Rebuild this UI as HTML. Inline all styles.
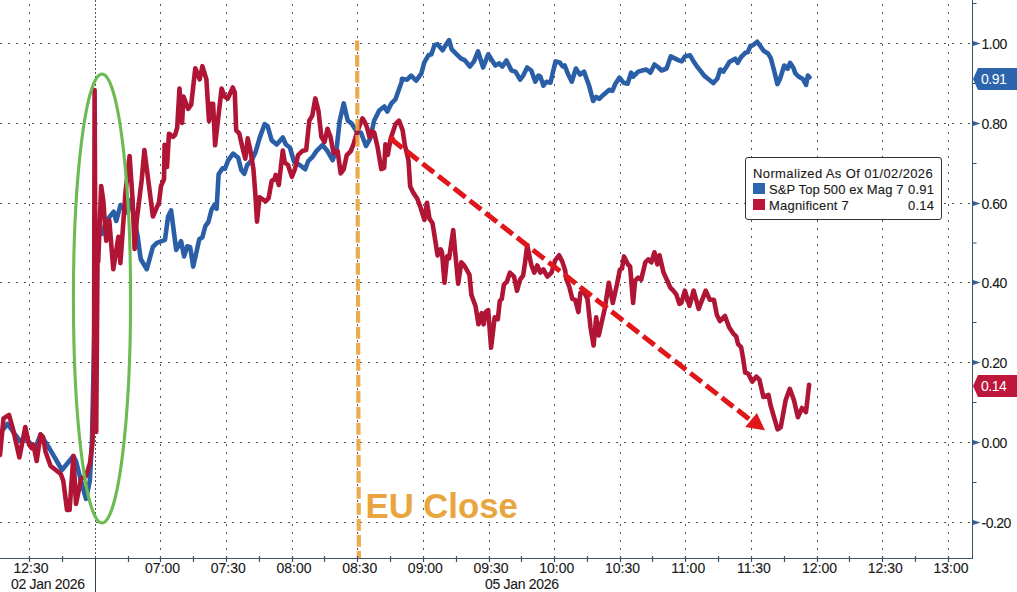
<!DOCTYPE html>
<html><head><meta charset="utf-8">
<style>
html,body{margin:0;padding:0;background:#fff;}
body{width:1017px;height:592px;position:relative;overflow:hidden;font-family:"Liberation Sans",sans-serif;color:#1a1a1a;}
.yl,.xl,.dl,.legend{-webkit-text-stroke:0.12px #1a1a1a;}
svg{position:absolute;left:0;top:0;}
.yl{position:absolute;left:981.5px;font-size:14px;line-height:16px;height:16px;white-space:nowrap;letter-spacing:-0.5px;}
.xl{position:absolute;top:560px;width:60px;text-align:center;font-size:14px;line-height:16px;white-space:nowrap;}
.dl{position:absolute;top:576px;font-size:14px;line-height:16px;white-space:nowrap;letter-spacing:-0.3px;}
.badge{position:absolute;left:973px;width:44px;height:22px;}
.badge span{position:absolute;left:8px;top:3px;font-size:14px;line-height:17px;color:#fff;letter-spacing:-0.5px;}
.legend{position:absolute;left:744.5px;top:156.5px;width:195.5px;height:61.5px;border:1px solid #333;border-radius:3px;background:#fff;font-size:13px;line-height:16px;}
.legend .row{position:absolute;left:8px;white-space:nowrap;}
.legend .sq{position:absolute;width:12px;height:11px;}
.eu{position:absolute;left:365.5px;top:486px;font-size:34.7px;line-height:40px;font-weight:bold;color:#e9a53e;white-space:nowrap;}
</style></head>
<body>
<svg width="1017" height="592" viewBox="0 0 1017 592">
<line x1="0" y1="43.5" x2="972" y2="43.5" stroke="#555" stroke-width="1" stroke-dasharray="2 6"/>
<line x1="0" y1="123.5" x2="972" y2="123.5" stroke="#555" stroke-width="1" stroke-dasharray="2 6"/>
<line x1="0" y1="203.5" x2="972" y2="203.5" stroke="#555" stroke-width="1" stroke-dasharray="2 6"/>
<line x1="0" y1="282.5" x2="972" y2="282.5" stroke="#555" stroke-width="1" stroke-dasharray="2 6"/>
<line x1="0" y1="362.5" x2="972" y2="362.5" stroke="#555" stroke-width="1" stroke-dasharray="2 6"/>
<line x1="0" y1="442.5" x2="972" y2="442.5" stroke="#555" stroke-width="1" stroke-dasharray="2 6"/>
<line x1="0" y1="522.5" x2="972" y2="522.5" stroke="#555" stroke-width="1" stroke-dasharray="2 6"/>
<line x1="29.5" y1="0" x2="29.5" y2="558" stroke="#555" stroke-width="1" stroke-dasharray="2 6" stroke-dashoffset="4"/>
<line x1="160.5" y1="0" x2="160.5" y2="558" stroke="#555" stroke-width="1" stroke-dasharray="2 6" stroke-dashoffset="4"/>
<line x1="226.5" y1="0" x2="226.5" y2="558" stroke="#555" stroke-width="1" stroke-dasharray="2 6" stroke-dashoffset="4"/>
<line x1="292.5" y1="0" x2="292.5" y2="558" stroke="#555" stroke-width="1" stroke-dasharray="2 6" stroke-dashoffset="4"/>
<line x1="357.5" y1="0" x2="357.5" y2="558" stroke="#555" stroke-width="1" stroke-dasharray="2 6" stroke-dashoffset="4"/>
<line x1="423.5" y1="0" x2="423.5" y2="558" stroke="#555" stroke-width="1" stroke-dasharray="2 6" stroke-dashoffset="4"/>
<line x1="489.5" y1="0" x2="489.5" y2="558" stroke="#555" stroke-width="1" stroke-dasharray="2 6" stroke-dashoffset="4"/>
<line x1="554.5" y1="0" x2="554.5" y2="558" stroke="#555" stroke-width="1" stroke-dasharray="2 6" stroke-dashoffset="4"/>
<line x1="620.5" y1="0" x2="620.5" y2="558" stroke="#555" stroke-width="1" stroke-dasharray="2 6" stroke-dashoffset="4"/>
<line x1="685.5" y1="0" x2="685.5" y2="558" stroke="#555" stroke-width="1" stroke-dasharray="2 6" stroke-dashoffset="4"/>
<line x1="751.5" y1="0" x2="751.5" y2="558" stroke="#555" stroke-width="1" stroke-dasharray="2 6" stroke-dashoffset="4"/>
<line x1="817.5" y1="0" x2="817.5" y2="558" stroke="#555" stroke-width="1" stroke-dasharray="2 6" stroke-dashoffset="4"/>
<line x1="882.5" y1="0" x2="882.5" y2="558" stroke="#555" stroke-width="1" stroke-dasharray="2 6" stroke-dashoffset="4"/>
<line x1="948.5" y1="0" x2="948.5" y2="558" stroke="#555" stroke-width="1" stroke-dasharray="2 6" stroke-dashoffset="4"/>
<line x1="95.5" y1="0" x2="95.5" y2="558" stroke="#555" stroke-width="1" stroke-dasharray="2 2"/>
<polyline points="0.0,433.0 7.6,424.0 15.0,434.5 20.0,441.0 25.0,438.0 31.6,444.6 36.0,446.0 40.5,434.5 49.4,448.3 58.2,463.5 62.0,470.0 73.4,456.0 76.0,461.0 81.0,481.0 86.0,499.0 89.8,481.0 92.0,440.0 96.5,232.0 101.9,233.8 105.0,225.0 109.5,216.9 113.7,211.8 116.3,221.0 120.5,205.0 126.5,212.4 130.6,200.0 137.7,236.8 140.7,259.0 146.8,269.2 152.9,246.9 156.9,242.8 165.0,239.8 168.1,216.5 171.1,210.4 176.2,249.9 181.1,241.2 184.1,256.4 187.2,246.3 190.2,247.3 193.2,266.6 199.3,239.2 202.4,237.2 205.4,226.0 208.4,222.0 211.5,209.8 214.5,204.7 216.6,208.8 218.6,174.3 222.6,168.2 225.0,168.8 228.0,160.7 233.1,153.6 238.2,157.7 241.2,169.8 244.3,173.9 247.3,164.8 251.4,160.7 255.4,152.6 259.5,138.4 264.6,124.2 267.6,126.2 271.7,140.4 276.7,144.5 282.8,137.4 285.9,144.5 289.9,147.5 294.0,161.7 300.1,165.3 305.2,169.3 308.2,161.2 312.3,157.2 316.4,151.1 322.4,145.0 327.5,151.1 332.6,160.2 336.6,149.1 339.7,120.7 343.7,103.4 347.8,120.7 351.8,123.7 356.9,131.8 361.0,132.8 366.0,146.0 370.1,138.9 374.1,120.7 379.2,110.5 384.3,106.5 387.3,111.6 391.4,103.4 395.4,99.4 401.5,82.2 402.0,78.7 407.1,79.7 411.1,75.6 416.2,80.7 421.3,73.6 424.3,62.4 428.4,55.3 431.4,54.3 434.5,45.2 437.5,44.2 442.6,50.3 445.6,45.2 449.1,40.1 451.7,49.3 455.7,53.3 460.8,58.4 464.9,60.4 469.9,66.5 474.0,61.4 478.0,51.3 483.1,67.5 488.2,54.3 495.3,65.5 499.3,63.4 502.4,66.5 506.4,60.4 511.5,70.5 515.5,71.6 520.1,79.7 523.2,75.6 527.2,67.5 531.3,70.5 535.3,81.7 538.4,75.6 540.4,76.6 543.4,85.7 546.5,81.7 550.5,82.7 552.6,73.6 555.6,61.4 559.7,62.4 562.7,66.5 564.7,65.5 567.8,73.6 571.8,81.7 575.9,68.5 579.9,74.6 584.0,71.6 589.1,85.7 593.1,101.0 596.2,96.9 599.2,98.9 603.3,94.9 609.3,89.8 612.4,90.8 615.4,83.7 619.5,77.6 623.5,82.7 627.6,83.7 631.1,72.6 633.2,76.6 638.2,71.6 642.3,70.5 646.4,69.5 650.4,72.6 654.5,64.5 658.5,67.5 661.6,70.5 666.6,68.5 670.7,56.4 674.7,58.4 678.8,60.4 681.8,61.4 684.9,56.4 689.9,55.3 693.0,60.4 697.0,66.5 701.1,71.6 704.1,75.6 709.2,79.7 713.2,83.1 717.3,78.7 720.3,69.5 723.4,71.6 726.8,66.3 729.3,62.1 735.2,58.7 737.7,62.9 741.1,57.0 745.3,52.8 747.9,52.0 750.4,46.0 752.9,45.2 757.2,41.8 759.7,45.2 763.9,51.1 768.1,53.6 770.7,57.9 774.1,70.5 777.4,84.1 780.0,79.0 784.2,65.5 787.6,68.9 790.1,62.9 793.5,68.0 795.2,73.1 798.5,76.5 802.8,79.0 806.1,84.9 807.8,75.6 809.5,77.3" fill="none" stroke="#2a5ea6" stroke-width="4.6" stroke-linejoin="round" stroke-linecap="round"/>
<polyline points="0.0,455.0 3.5,418.4 9.0,414.8 13.0,429.0 19.4,457.4 25.3,427.0 29.0,444.6 31.6,448.0 33.5,445.0 36.7,461.0 40.5,434.5 43.0,437.0 45.6,452.0 50.6,466.0 55.7,470.0 60.8,474.0 63.3,481.0 67.0,510.0 69.6,510.0 73.4,456.0 76.0,504.0 81.0,479.0 86.0,476.0 90.0,463.0 92.5,443.0 94.0,380.0 94.6,90.0 96.2,432.0 97.6,250.0 98.2,262.0 101.2,186.0 103.2,200.0 106.2,240.8 109.3,220.5 113.3,269.2 118.4,236.8 120.4,263.1 125.5,192.2 129.6,156.0 132.6,200.0 134.6,249.0 136.7,220.5 141.7,180.0 144.4,150.0 150.8,200.0 152.9,216.5 159.0,202.3 161.0,186.0 164.0,179.3 164.6,144.9 167.0,167.0 169.0,133.7 173.1,136.8 175.0,135.1 177.2,127.6 179.5,88.5 182.1,123.0 183.5,96.6 188.2,108.8 191.2,104.7 195.3,68.2 199.7,79.4 202.4,66.2 206.4,79.4 209.0,121.0 211.1,103.7 213.1,103.7 215.1,145.3 221.6,88.5 224.7,96.6 227.7,98.7 232.8,87.5 234.8,92.6 236.2,130.3 239.2,133.3 242.2,146.5 245.3,158.7 247.7,138.4 250.4,150.6 253.4,168.8 255.4,195.2 257.0,221.6 259.5,197.2 262.5,199.2 265.6,201.3 268.6,198.2 271.7,181.0 274.7,179.0 275.7,174.9 278.8,185.0 282.8,150.6 284.8,162.7 287.9,164.8 291.9,176.9 295.0,168.8 298.1,155.1 302.2,151.1 306.2,150.1 309.3,120.7 312.3,115.6 315.3,98.4 318.4,110.5 321.4,136.9 324.5,142.0 327.5,128.8 330.5,136.9 333.6,153.1 337.6,151.1 340.7,173.4 343.7,169.3 346.8,155.1 350.8,151.1 353.9,143.0 356.9,132.8 362.4,118.3 364.7,121.8 367.1,127.7 369.5,137.2 371.8,131.3 374.2,132.5 377.7,147.8 381.3,169.1 384.2,167.9 385.4,144.3 387.8,154.9 390.7,138.4 395.5,124.2 399.0,120.6 402.6,130.1 404.9,145.5 406.7,152.6 408.5,160.8 410.2,186.5 413.2,192.6 417.3,198.7 420.3,206.8 424.4,219.9 427.0,202.7 429.5,218.9 432.5,223.0 437.6,255.4 440.6,249.3 442.0,252.3 444.5,282.7 447.1,256.4 449.1,258.4 453.2,230.0 455.2,252.3 458.2,283.7 461.3,262.4 464.3,265.5 469.4,274.6 471.4,294.9 475.5,306.0 478.5,324.3 481.6,313.1 483.6,324.3 485.6,312.1 488.2,310.1 491.1,347.6 494.7,317.2 497.8,319.2 499.8,301.0 501.8,298.9 503.9,284.7 506.9,281.7 509.9,272.6 514.0,276.6 517.0,290.8 520.1,279.7 523.1,275.6 525.1,262.4 527.2,245.2 531.2,264.5 534.3,272.6 537.3,265.5 540.3,272.6 543.4,269.5 547.4,276.6 551.5,272.6 555.1,260.4 559.1,255.3 562.2,261.4 565.2,270.5 566.2,278.7 569.3,286.8 572.3,298.9 575.3,299.9 578.4,312.1 580.4,292.8 583.4,290.8 587.5,298.9 590.5,327.3 593.6,345.5 596.2,317.2 598.7,335.4 601.7,322.2 604.7,309.1 608.8,282.7 612.8,303.0 616.9,284.7 619.9,269.5 622.0,268.5 624.0,256.4 628.0,264.5 630.1,266.5 633.1,303.0 635.1,280.7 638.2,277.6 641.2,279.7 645.3,262.4 648.3,259.4 651.4,262.4 654.4,252.3 657.4,264.5 659.5,255.3 663.5,272.6 667.2,280.5 670.3,287.6 673.3,290.7 676.4,294.7 679.4,303.9 681.4,302.8 684.9,290.7 689.5,305.9 693.6,290.7 698.7,308.9 705.7,290.7 709.8,299.8 713.9,299.8 716.9,315.0 719.9,321.1 725.0,316.0 729.1,327.2 733.1,333.3 736.2,336.3 738.1,344.2 741.1,347.2 743.1,358.4 745.2,372.6 748.2,373.6 752.3,381.7 756.3,376.6 759.4,379.7 763.4,396.9 768.5,394.9 770.5,405.0 774.6,419.2 777.6,429.4 780.7,427.3 785.7,400.0 789.8,388.8 793.9,400.0 797.9,417.2 802.0,408.0 806.0,412.1 809.1,384.8" fill="none" stroke="#b01535" stroke-width="4.6" stroke-linejoin="round" stroke-linecap="round"/>
<line x1="357.1" y1="40.5" x2="358.9" y2="558" stroke="#e9a53e" stroke-width="4.2" stroke-dasharray="11.8 4.2" stroke-dashoffset="1.6" opacity="0.9"/>
<ellipse cx="102" cy="298.5" rx="28.6" ry="224.5" fill="none" stroke="#6bbb52" stroke-width="3.1"/>
<line x1="391" y1="139" x2="749" y2="419" stroke="#e0161b" stroke-width="5" stroke-dasharray="14.5 5.5"/>
<polygon points="745.2,426.9 756.9,413.1 765,430.4" fill="#e0161b"/>
<circle cx="392" cy="139.5" r="3.2" fill="#e0161b"/>
<line x1="972.5" y1="0" x2="972.5" y2="559" stroke="#3c5566" stroke-width="1"/>
<line x1="0" y1="558.5" x2="973" y2="558.5" stroke="#3c5566" stroke-width="1"/>
<line x1="95.5" y1="558" x2="95.5" y2="592" stroke="#333d45" stroke-width="1"/>
<line x1="29.5" y1="556" x2="29.5" y2="562" stroke="#3c5566" stroke-width="1.2"/>
<line x1="62.5" y1="556" x2="62.5" y2="562" stroke="#3c5566" stroke-width="1.2"/>
<line x1="128.5" y1="556" x2="128.5" y2="562" stroke="#3c5566" stroke-width="1.2"/>
<line x1="160.5" y1="556" x2="160.5" y2="562" stroke="#3c5566" stroke-width="1.2"/>
<line x1="226.5" y1="556" x2="226.5" y2="562" stroke="#3c5566" stroke-width="1.2"/>
<line x1="292.5" y1="556" x2="292.5" y2="562" stroke="#3c5566" stroke-width="1.2"/>
<line x1="357.5" y1="556" x2="357.5" y2="562" stroke="#3c5566" stroke-width="1.2"/>
<line x1="423.5" y1="556" x2="423.5" y2="562" stroke="#3c5566" stroke-width="1.2"/>
<line x1="489.5" y1="556" x2="489.5" y2="562" stroke="#3c5566" stroke-width="1.2"/>
<line x1="554.5" y1="556" x2="554.5" y2="562" stroke="#3c5566" stroke-width="1.2"/>
<line x1="620.5" y1="556" x2="620.5" y2="562" stroke="#3c5566" stroke-width="1.2"/>
<line x1="685.5" y1="556" x2="685.5" y2="562" stroke="#3c5566" stroke-width="1.2"/>
<line x1="751.5" y1="556" x2="751.5" y2="562" stroke="#3c5566" stroke-width="1.2"/>
<line x1="817.5" y1="556" x2="817.5" y2="562" stroke="#3c5566" stroke-width="1.2"/>
<line x1="882.5" y1="556" x2="882.5" y2="562" stroke="#3c5566" stroke-width="1.2"/>
<line x1="948.5" y1="556" x2="948.5" y2="562" stroke="#3c5566" stroke-width="1.2"/>
<line x1="193.5" y1="556" x2="193.5" y2="562" stroke="#3c5566" stroke-width="1.2"/>
<line x1="259.5" y1="556" x2="259.5" y2="562" stroke="#3c5566" stroke-width="1.2"/>
<line x1="324.5" y1="556" x2="324.5" y2="562" stroke="#3c5566" stroke-width="1.2"/>
<line x1="390.5" y1="556" x2="390.5" y2="562" stroke="#3c5566" stroke-width="1.2"/>
<line x1="456.5" y1="556" x2="456.5" y2="562" stroke="#3c5566" stroke-width="1.2"/>
<line x1="521.5" y1="556" x2="521.5" y2="562" stroke="#3c5566" stroke-width="1.2"/>
<line x1="587.5" y1="556" x2="587.5" y2="562" stroke="#3c5566" stroke-width="1.2"/>
<line x1="652.5" y1="556" x2="652.5" y2="562" stroke="#3c5566" stroke-width="1.2"/>
<line x1="718.5" y1="556" x2="718.5" y2="562" stroke="#3c5566" stroke-width="1.2"/>
<line x1="784.5" y1="556" x2="784.5" y2="562" stroke="#3c5566" stroke-width="1.2"/>
<line x1="849.5" y1="556" x2="849.5" y2="562" stroke="#3c5566" stroke-width="1.2"/>
<line x1="915.5" y1="556" x2="915.5" y2="562" stroke="#3c5566" stroke-width="1.2"/>
<polygon points="973,40.9 980.5,43.5 973,46.1" fill="#3560a0"/>
<polygon points="973,120.9 980.5,123.5 973,126.1" fill="#3560a0"/>
<polygon points="973,200.9 980.5,203.5 973,206.1" fill="#3560a0"/>
<polygon points="973,279.9 980.5,282.5 973,285.1" fill="#3560a0"/>
<polygon points="973,359.9 980.5,362.5 973,365.1" fill="#3560a0"/>
<polygon points="973,439.9 980.5,442.5 973,445.1" fill="#3560a0"/>
<polygon points="973,519.9 980.5,522.5 973,525.1" fill="#3560a0"/>
<line x1="972" y1="3.5" x2="976.5" y2="3.5" stroke="#3c5566" stroke-width="1"/>
<line x1="972" y1="83.5" x2="976.5" y2="83.5" stroke="#3c5566" stroke-width="1"/>
<line x1="972" y1="163.5" x2="976.5" y2="163.5" stroke="#3c5566" stroke-width="1"/>
<line x1="972" y1="243.0" x2="976.5" y2="243.0" stroke="#3c5566" stroke-width="1"/>
<line x1="972" y1="322.5" x2="976.5" y2="322.5" stroke="#3c5566" stroke-width="1"/>
<line x1="972" y1="402.5" x2="976.5" y2="402.5" stroke="#3c5566" stroke-width="1"/>
<line x1="972" y1="482.5" x2="976.5" y2="482.5" stroke="#3c5566" stroke-width="1"/>
</svg>
<div class="yl" style="top:35.5px">1.00</div>
<div class="yl" style="top:115.5px">0.80</div>
<div class="yl" style="top:195.5px">0.60</div>
<div class="yl" style="top:274.5px">0.40</div>
<div class="yl" style="top:354.5px">0.20</div>
<div class="yl" style="top:434.5px">0.00</div>
<div class="yl" style="top:514.5px">-0.20</div>

<div class="xl" style="left:132.6px">07:00</div>
<div class="xl" style="left:198.3px">07:30</div>
<div class="xl" style="left:264.0px">08:00</div>
<div class="xl" style="left:329.7px">08:30</div>
<div class="xl" style="left:395.4px">09:00</div>
<div class="xl" style="left:461.1px">09:30</div>
<div class="xl" style="left:526.8px">10:00</div>
<div class="xl" style="left:592.5px">10:30</div>
<div class="xl" style="left:658.2px">11:00</div>
<div class="xl" style="left:723.9px">11:30</div>
<div class="xl" style="left:789.6px">12:00</div>
<div class="xl" style="left:855.3px">12:30</div>
<div class="xl" style="left:921.0px">13:00</div>
<div class="xl" style="left:1px">12:30</div>

<div class="dl" style="left:11px">02 Jan 2026</div>
<div class="dl" style="left:485px">05 Jan 2026</div>
<svg class="badge" style="top:68px" width="44" height="22" viewBox="0 0 44 22"><polygon points="0,11 5,0 44,0 44,22 5,22" fill="#2c64ad"/></svg>
<div class="badge" style="top:68px"><span>0.91</span></div>
<svg class="badge" style="top:375px" width="44" height="22" viewBox="0 0 44 22"><polygon points="0,11 5,0 44,0 44,22 5,22" fill="#be173c"/></svg>
<div class="badge" style="top:375px"><span>0.14</span></div>
<div class="legend">
  <div class="row" style="top:8px;left:7.5px;letter-spacing:0.38px">Normalized As Of 01/02/2026</div>
  <div class="sq" style="left:7.2px;top:25px;background:#2d66ae"></div>
  <div class="row" style="top:24px;left:23.5px;letter-spacing:0.1px">S&amp;P Top 500 ex Mag 7</div>
  <div class="row" style="top:24px;left:162.5px;letter-spacing:0.2px">0.91</div>
  <div class="sq" style="left:7.2px;top:41px;background:#bb163a"></div>
  <div class="row" style="top:40px;left:23.5px;letter-spacing:0.2px">Magnificent 7</div>
  <div class="row" style="top:40px;left:162.5px;letter-spacing:0.2px">0.14</div>
</div>
<div class="eu">EU Close</div>
</body></html>
